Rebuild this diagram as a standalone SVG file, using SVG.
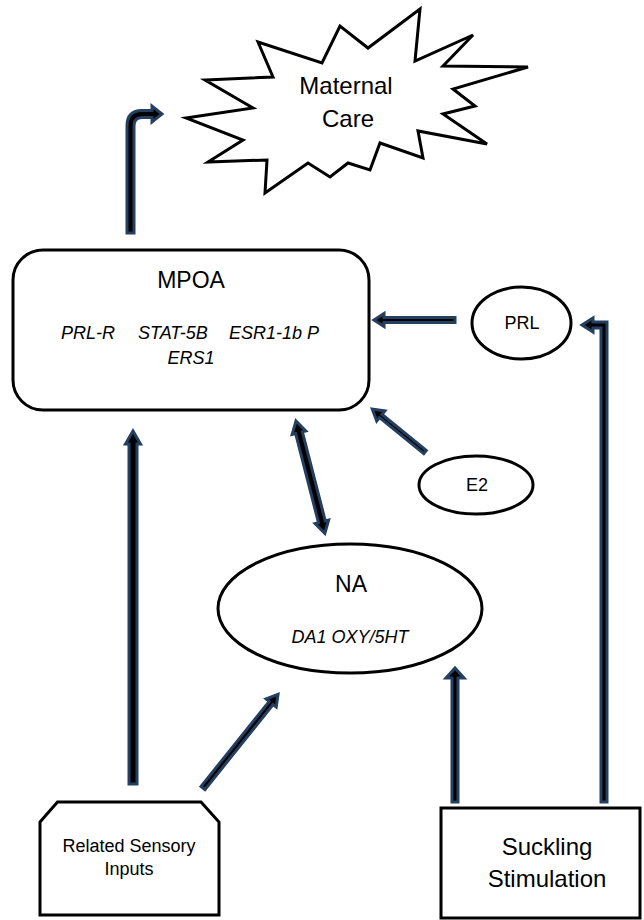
<svg xmlns="http://www.w3.org/2000/svg" width="644" height="920" viewBox="0 0 644 920">
<style>
.shape{fill:#fff;stroke:#000;stroke-width:3}
.arr{fill:#000;stroke:#243f60;stroke-width:3;stroke-linejoin:miter}
text{font-family:"Liberation Sans",Arial,sans-serif;fill:#000;text-anchor:middle}
.it{font-style:italic}
</style>
<rect width="644" height="920" fill="#fff"/>
<g id="maternal-care">
<polygon class="shape" points="186,118 253,108 205,80 273,77 258,42 322,63 340,26 368,48 420,9 415,61 473,35 443,66 528,67 453,89 475,106 443,114 487,144 418,131 423,158 380,143 370,170 348,163 330,177 308,163 265,193 267,160 208,162 243,140"/>
<text x="346" y="94" font-size="24">Maternal</text>
<text x="348" y="127" font-size="24">Care</text>
</g>
<g id="mpoa">
<rect class="shape" x="13" y="250" width="356" height="160" rx="30" ry="30"/>
<text x="191" y="288" font-size="23">MPOA</text>
<text class="it" x="61" y="339" font-size="18" text-anchor="start" style="text-anchor:start">PRL-R</text>
<text class="it" x="138" y="339" font-size="18" style="text-anchor:start">STAT-5B</text>
<text class="it" x="229" y="339" font-size="18" style="text-anchor:start">ESR1-1b P</text>
<text class="it" x="191" y="364" font-size="18">ERS1</text>
</g>
<g id="prl">
<ellipse class="shape" cx="521.5" cy="323" rx="49.5" ry="36"/>
<text x="522" y="329" font-size="18">PRL</text>
</g>
<g id="e2">
<ellipse class="shape" cx="476" cy="485" rx="57" ry="29"/>
<text x="477" y="491" font-size="18">E2</text>
</g>
<g id="na">
<ellipse class="shape" cx="350" cy="608.5" rx="132" ry="64.5"/>
<text x="351" y="592" font-size="23">NA</text>
<text class="it" x="350" y="643" font-size="18">DA1 OXY/5HT</text>
</g>
<g id="related-sensory-inputs">
<polygon class="shape" points="40,822 57.5,802 201,802 219,822 219,915 40,915"/>
<text x="129" y="852" font-size="18">Related Sensory</text>
<text x="129" y="875" font-size="18">Inputs</text>
</g>
<g id="suckling-stimulation">
<rect class="shape" x="441" y="808" width="199" height="110"/>
<text x="547" y="855" font-size="24">Suckling</text>
<text x="547" y="887" font-size="24">Stimulation</text>
</g>
<g id="connectors">
<!-- MPOA -> Maternal Care (bent) -->
<path class="arr" d="M127,233 L127,126 Q127,110.5 142,110.5 L152,110.5 L152,106 L162,114 L152,122 L152,117.5 L142,117.5 Q134,117.5 134,126 L134,233 Z"/>
<!-- PRL -> MPOA -->
<polygon class="arr" transform="translate(455,320) rotate(180)" points="0,-2.5 71,-2.5 71,-6.5 81,0 71,6.5 71,2.5 0,2.5"/>
<!-- E2 -> MPOA -->
<polygon class="arr" transform="translate(425,452) rotate(219.2)" points="0,-2 57,-2 57,-6.5 68,0 57,6.5 57,2 0,2"/>
<!-- MPOA <-> NA -->
<polygon class="arr" transform="translate(296,421) rotate(75.6)" points="0,0 12,-7 12,-3.5 104,-3.5 104,-7 116,0 104,7 104,3.5 12,3.5 12,7"/>
<!-- Related -> NA -->
<polygon class="arr" transform="translate(203,788) rotate(-51.3)" points="0,-2.5 109,-2.5 109,-6.5 120,0 109,6.5 109,2.5 0,2.5"/>
<!-- Related -> MPOA -->
<polygon class="arr" transform="translate(133,784) rotate(-90)" points="0,-4 340,-4 340,-7.5 353,0 340,7.5 340,4 0,4"/>
<!-- Suckling -> NA -->
<polygon class="arr" transform="translate(455,802) rotate(-90)" points="0,-3 124,-3 124,-9 134,0 124,9 124,3 0,3"/>
<!-- Suckling -> PRL (bent) -->
<path class="arr" d="M601,802 L601,328 L593,328 L593,332 L582,325 L593,318 L593,322 L607,322 L607,802 Z"/>
</g>
</svg>
